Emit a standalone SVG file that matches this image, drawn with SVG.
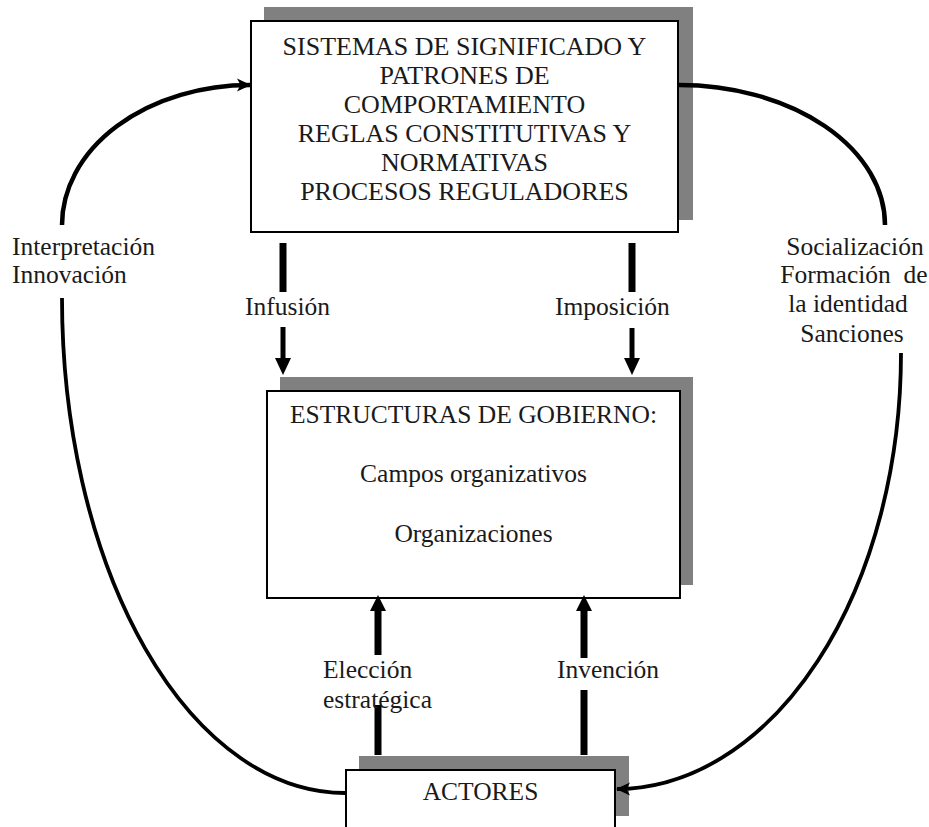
<svg xmlns="http://www.w3.org/2000/svg" width="929" height="827" viewBox="0 0 929 827">
  <style>
    .shadow { fill: #808080; }
    .box { fill: #ffffff; stroke: #000000; stroke-width: 2; }
    text { font-family: "Liberation Serif", "Times New Roman", serif; font-size: 25.5px; fill: #1a1a1a; white-space: pre; }
    .c { text-anchor: middle; }
    .caps { font-size: 26px; }
    .curve { fill: none; stroke: #000000; stroke-width: 4.5; }
    .curve-thin { fill: none; stroke: #000000; stroke-width: 3.8; }
    .shaft { stroke: #000000; stroke-width: 7; }
    .shaft-thin { stroke: #000000; stroke-width: 5; }
    .head { fill: #000000; }
  </style>
  <defs>
    <marker id="curveHead" markerUnits="userSpaceOnUse" markerWidth="16" markerHeight="16" viewBox="0 0 16 16" refX="14" refY="8" orient="auto">
      <path d="M1,1.5 L15,8 L1,14.5 L4.5,8 Z" fill="#000000"/>
    </marker>
  </defs>
  <rect width="929" height="827" fill="#ffffff"/>

  <!-- institutional systems -->
  <g id="node-sistemas">
    <rect class="shadow" x="264" y="7" width="429" height="213"/>
    <rect class="box" x="251" y="21" width="427" height="211"/>
    <text class="c caps" x="464.5" y="55">SISTEMAS DE SIGNIFICADO Y</text>
    <text class="c caps" x="464.5" y="84">PATRONES DE</text>
    <text class="c caps" x="464.5" y="113">COMPORTAMIENTO</text>
    <text class="c caps" x="464.5" y="142">REGLAS CONSTITUTIVAS Y</text>
    <text class="c caps" x="464.5" y="171">NORMATIVAS</text>
    <text class="c caps" x="464.5" y="200">PROCESOS REGULADORES</text>
  </g>

  <!-- governance structures -->
  <g id="node-estructuras">
    <rect class="shadow" x="280" y="377" width="413" height="208"/>
    <rect class="box" x="267" y="391" width="413" height="207"/>
    <text class="c" x="473.5" y="423">ESTRUCTURAS DE GOBIERNO:</text>
    <text class="c" x="473.5" y="482">Campos organizativos</text>
    <text class="c" x="473.5" y="542">Organizaciones</text>
  </g>

  <!-- actors -->
  <g id="node-actores">
    <rect class="shadow" x="359" y="756" width="270" height="60"/>
    <rect class="box" x="346" y="770" width="269" height="70"/>
    <text class="c" x="480.5" y="800">ACTORES</text>
  </g>

  <!-- connectors -->
  <g id="connectors">
    <!-- left loop: actors back up to the systems -->
    <path class="curve" d="M62,225 A188,140 0 0 1 250,85" marker-end="url(#curveHead)"/>
    <path class="curve-thin" d="M62,298 A283,495 0 0 0 346,793"/>
    <!-- right loop: systems down to the actors -->
    <path class="curve" d="M679,85 A206,140 0 0 1 885,225"/>
    <path class="curve-thin" d="M901,353 A285,436 0 0 1 617,789" marker-end="url(#curveHead)"/>

    <!-- Infusión -->
    <line class="shaft" x1="283" y1="243" x2="283" y2="292"/>
    <line class="shaft-thin" x1="283" y1="327" x2="283" y2="360"/>
    <polygon class="head" points="275,358 291,358 283,375"/>
    <!-- Imposición -->
    <line class="shaft" x1="632" y1="243" x2="632" y2="292"/>
    <line class="shaft-thin" x1="632" y1="328" x2="632" y2="360"/>
    <polygon class="head" points="624,358 640,358 632,375"/>

    <!-- Elección estratégica -->
    <line class="shaft" x1="378" y1="755" x2="378" y2="705"/>
    <line class="shaft" x1="378" y1="655" x2="378" y2="608"/>
    <polygon class="head" points="370,611 386,611 378,595"/>
    <!-- Invención -->
    <line class="shaft" x1="584" y1="755" x2="584" y2="690"/>
    <line class="shaft" x1="584" y1="658" x2="584" y2="608"/>
    <polygon class="head" points="576,611 592,611 584,595"/>
  </g>

  <!-- connector labels -->
  <g id="labels">
    <text x="12" y="255">Interpretación</text>
    <text x="12" y="283">Innovación</text>
    <text x="245" y="315">Infusión</text>
    <text x="555" y="315">Imposición</text>
    <text x="323" y="678">Elección</text>
    <text x="323" y="708">estratégica</text>
    <text x="557" y="678">Invención</text>
    <text class="c" x="855" y="255">Socialización</text>
    <text class="c" x="854" y="283" xml:space="preserve">Formación  de</text>
    <text class="c" x="848" y="312">la identidad</text>
    <text class="c" x="852" y="342">Sanciones</text>
  </g>
</svg>
